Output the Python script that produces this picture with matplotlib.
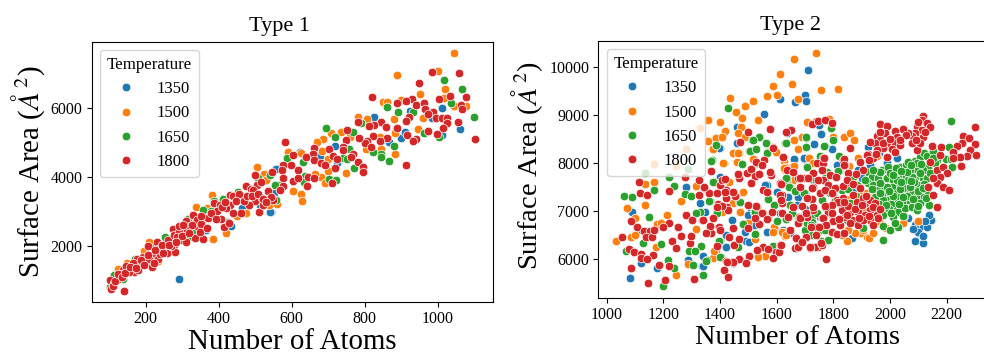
import numpy as np
import matplotlib
matplotlib.use("Agg")
import matplotlib.pyplot as plt
from matplotlib.lines import Line2D

plt.rcParams['font.family'] = ['Liberation Serif', 'DejaVu Serif']
plt.rcParams['mathtext.fontset'] = 'stix'

temps = ['1350', '1500', '1650', '1800']
colors = ['#1f77b4', '#ff7f0e', '#2ca02c', '#d62728']

# Type 1: (atoms, surface area)
t1_1350 = [(1010,6001),(1060,5393),(825,5740),(983,5711),(924,5905),(900,5132),(910,5306),(1012,5209),(845,5035),(867,5016),
    (718,4890),(677,4600),(623,4707),(723,4388),(559,4233),(542,2978),(551,3519),(291,1026),(541,2978),(558,4224),
    (464,3103),(367,3055),(433,2581),(513,3180),(364,2456)]
t1_1500 = [(1044,7585),(1000,7073),(887,6948),(1019,6552),(951,6388),(851,6175),(860,6175),(1018,6291),(1044,6050),(1076,6050),
    (899,6223),(880,5673),(958,5702),(780,5721),(806,5682),(736,5306),(708,5257),(760,5161),(685,5103),(669,4997),
    (946,5373),(883,5277),(841,5161),(589,4707),(625,4697),(682,4755),(700,4504),(882,4658),(845,4793),(803,4813),
    (748,4118),(699,4175),(680,3982),(691,3808),(664,4079),(603,3586),(625,3499),(629,3296),(559,3210),(505,4282),
    (525,4079),(529,3905),(382,3470),(339,3113),(385,2205),(421,2359),(474,2958),(449,2871),(538,3180),(209,2108),
    (123,1335),(234,1548),(262,1780),(367,3084),(335,2726),(150,1500),(195,1850),(300,2450),(320,2600),(110,950)]
t1_1650 = [(1016,6803),(1067,6552),(1036,6146),(860,6020),(891,5876),(933,5885),(1100,5731),(694,5412),(790,5547),(767,5296),
    (961,5257),(1002,5161),(717,5141),(880,4890),(756,4803),(823,4716),(845,4658),(845,4572),(867,4465),(740,4542),
    (752,4523),(588,4542),(632,4427),(769,4253),(636,4031),(703,3934),(720,3895),(634,3857),(540,4050),(553,3760),
    (563,3760),(557,3325),(554,3760),(411,3364),(387,3306),(358,3035),(380,3006),(326,2437),(319,2263),(317,2765),
    (254,2263),(454,3567),(102,794),(114,1152),(138,1026),(508,3953),(426,2697),(170,1600),(145,1250),(225,1950)]
t1_1800 = [(1058,7006),(985,7025),(948,6726),(820,6320),(1076,6310),(1034,6330),(1002,6262),(929,6262),(887,6146),(912,6185),
    (939,6088),(961,6127),(965,5972),(1064,6069),(1066,5953),(988,5866),(974,5818),(994,5702),(1010,5702),(1024,5711),
    (1026,5547),(1014,5402),(1056,5576),(920,5721),(912,5624),(844,5586),(824,5499),(811,5470),(780,5576),(859,5451),
    (887,5402),(751,5364),(973,5335),(998,5238),(915,5209),(1102,5084),(939,5103),(931,5026),(862,5112),(842,5045),
    (821,5180),(805,5045),(801,4987),(784,5122),(749,5064),(818,4871),(581,5006),(662,4823),(659,4658),(703,4793),
    (739,4852),(740,4774),(639,4572),(603,4639),(660,4475),(712,4600),(724,4513),(767,4658),(762,4572),(782,4436),
    (796,4282),(796,4146),(913,4340),(719,4262),(679,4388),(691,4330),(617,4195),(597,4349),(575,4340),(572,4195),
    (545,4146),(575,3963),(603,3886),(617,3963),(643,4001),(660,3973),(710,3828),(641,3721),(575,3741),(568,3615),
    (545,3393),(549,3330),(140,698),(105,737),(102,1007),(114,910),(127,1075),(138,1297),(150,1345),(161,1441),
    (168,1229),(175,1625),(184,1413),(193,1664),(201,1471),(217,1374),(207,2002),(216,1731),(233,1625),(230,2108),
    (234,1896),(253,1925),(262,2166),(277,2021),(280,1828),(275,2485),(277,2321),(292,2408),(294,2166),(309,2099),
    (309,2726),(312,2456),(330,2900),(336,2224),(357,2185),(344,2553),(359,2794),(341,2746),(387,3248),(387,2842),
    (406,2765),(415,2553),(428,2668),(403,3180),(432,3180),(431,3470),(440,3451),(461,2958),(474,3731),(487,3634),
    (499,4050),(504,3760),(499,3306),(484,3180),(510,2987),(518,3374),(535,3586),(543,3422),(520,3180),(110,820),
    (120,1000),(130,1180),(145,1420),(155,1240),(165,1500),(180,1290),(190,1520),(210,1600),(240,1750),(258,1800),
    (268,1990),(285,2250),(300,2290),(320,2580),(350,2630),(370,2800),(395,3000),(420,3090),(455,3500),(495,3620),
    (115,980),(125,1180),(135,1100),(142,1220),(158,1380),(172,1360),(188,1580),(196,1430),(205,1720),(222,1500),
    (225,1870),(245,2010),(248,1790),(265,2010),(283,2100),(290,2560),(302,2600),(318,2380),(328,2600),(348,2400),
    (352,2850),(368,2500),(378,2950),(392,2780),(410,3130),(418,3270),(440,2950),(448,3300),(470,3300),(478,3450),
    (492,3430),(508,3500),(515,3850),(522,3350),(530,3260)]

# Type 2
t2_1350 = [(1081,5605),(1088,6970),(1114,6596),(1120,5910),(1176,5806),(1280,7490),(1328,7157),(1347,6984),(1286,5979),(1336,5855),
    (1398,8308),(1458,8751),(1459,8405),(1399,7705),(1556,9022),(1613,9327),(1635,8627),(1442,6804),(1420,6256),(1492,6374),
    (1488,6575),(1565,7538),(1506,6950),(1565,6568),(1623,6603),(1600,7400),(1710,9929),(1612,9320),(1663,9271),(1701,9403),
    (1705,9285),(1755,8606),(1749,8786),(1733,8384),(1794,8287),(1662,8065),(1695,8086),(1923,8336),(1888,7850),(1900,7677),
    (1814,7954),(2023,8093),(1645,6554),(1865,6430),(2088,6381),(2115,6326),(2103,6534),(2106,6672),(2129,6658),(2143,6811),
    (2139,6915),(2088,6707),(2065,6845),(2100,6568),(1729,7642),(1753,6880),(1638,7296),(1612,6950),(1676,7261),(1753,6672),
    (2080,6620),(2118,6480),(2125,6780),(2050,6900),(1700,7050),(1780,7500),(1850,7700),(1960,8200),(1420,6500),(1520,6700),
    (1397,8308),(1461,8419),(1733,8384),(1755,8606),(1662,8072),(1696,8093),(1400,7712),(1558,7539),(1602,7400),(1676,7296),
    (1670,7123),(1441,6811),(1500,6915),(1488,6569),(1503,6346),(1421,6256),(1449,6291),(1570,6846),(1594,6638),(1647,6534),
    (1338,5855),(1338,6063),(1617,6950),(1790,6950),(1830,6850),(1900,6750),(1950,6950),(1870,7450),(1930,7950),(1990,8000)]
t2_1500 = [(1612,9846),(1585,9590),(1601,9410),(1567,9382),(1435,9340),(1515,9285),(1489,9188),(1456,9056),(1535,8890),(1479,8932),
    (1356,8897),(1401,8855),(1330,8717),(1473,8751),(1416,8654),(1463,8613),(1488,8543),(1357,8453),(1383,8509),(1405,8530),
    (1279,8294),(1372,8287),(1447,8197),(1465,8211),(1412,7996),(1518,8072),(1167,7968),(1245,7940),(1134,7566),(1168,7601),
    (1314,7511),(1261,7206),(1134,7123),(1070,7060),(1100,6860),(1213,6915),(1033,6381),(1084,6450),(1100,6499),(1176,6735),
    (1190,6742),(1172,6256),(1245,5660),(1315,6631),(1285,5889),(1385,6173),(1558,6063),(1535,6049),(1629,7850),(1627,8058),
    (1406,6984),(1447,7157),(1523,6409),(1740,10290),(1661,10151),(1654,9645),(1756,9520),(1815,9527),(1675,9326),(1706,8848),
    (1738,8876),(1786,8911),(1839,8537),(1858,8613),(1874,8467),(1798,8530),(1661,8467),(1688,8537),(1674,8287),(1624,8031),
    (1715,8093),(1659,7934),(1628,7906),(1658,7629),(1900,7365),(1918,7365),(1856,7934),(1888,8093),(1953,8141),(1920,6450),
    (1927,6430),(1847,6374),(2045,6742),(2099,6797),(1621,6568),(1629,6478),(1894,6534),(1876,6534),(1794,6915),(1970,6700),
    (1845,7250),(1880,7000),(1960,6800),(1905,6600),(1940,6550),(1830,6500),(1358,8453),(1384,8509),(1405,8543),(1374,8287),
    (1409,8003),(1458,8010),(1447,8197),(1462,8197),(1517,8072),(1586,8336),(1596,8218),(1661,8474),(1688,8543),(1625,7899),
    (1661,7934),(1729,7989),(1433,7594),(1388,7365),(1362,7351),(1482,7400),(1470,6984),(1553,6950),(1500,6755),(1590,6672),
    (1620,6568),(1588,6568),(1633,6499),(1376,6013),(1378,6173),(1656,7643),(1850,6600),(1800,7150),(1910,7050),(1985,6650)]
t2_1650 = [(1427,9139),(1539,8530),(1514,8474),(1386,8370),(1503,8252),(1566,8218),(1630,8419),(1370,8051),(1479,7968),(1136,7781),
    (1286,7878),(1219,7705),(1238,7525),(1168,7428),(1060,7317),(1089,7296),(1150,6880),(1275,7352),(1299,7303),(1365,7213),
    (1378,7608),(1329,6984),(1314,6950),(1388,6963),(1481,6735),(1398,6381),(1332,6277),(1353,5972),(1402,6049),(1340,5660),
    (1198,5432),(1236,5813),(1217,5979),(1068,6159),(1127,6326),(1192,6312),(1290,6173),(1312,6159),(1303,5875),(1521,6984),
    (1570,7241),(1590,7123),(1632,6825),(1523,6520),(1588,6270),(1465,7192),(1529,7989),(1635,7608),(2216,8876),(1790,8717),
    (1702,8523),(1703,8322),(1769,8356),(1630,8412),(1753,8128),(1821,8141),(1976,6402),(2027,6672),(1976,6693),(1904,6645),
    (1782,6395),(1755,6381),(1723,6499),(1700,6603),(1676,6880),(1647,7123),(1653,6963),(1635,7677),(1645,7504),(1665,7421),
    (1708,7920),(1700,7365),(1759,7227),(1788,7365),(1820,7837),(1873,7733),(1806,7227),(1829,7435),(1859,7157),(1882,7539),
    (1923,7816),(1935,7712),(1923,7573),(1941,7539),(1959,7677),(1970,7850),(1994,7906),(1988,7677),(1979,7504),(1953,7435),
    (1947,7296),(1982,7331),(2012,7642),(2018,7781),(2041,7712),(2035,7920),(2056,7954),(2088,8044),(2106,8128),(2120,8197),
    (2129,8141),(2153,8252),(2167,8058),(2196,8072),(2208,8322),(2216,8072),(2218,7920),(2159,7989),(2135,7920),(2118,7850),
    (2094,7850),(2071,7850),(2056,7726),(2088,7712),(2115,7677),(2082,7504),(2053,7573),(2029,7539),(2006,7504),(2000,7365),
    (2023,7365),(2053,7365),(2076,7365),(2129,7421),(2112,7296),(2092,7296),(2065,7227),(2041,7192),(2018,7227),(1994,7227),
    (1976,7088),(1994,6984),(1976,6915),(2012,7053),(2029,6984),(2012,6880),(2018,6755),(2053,7053),(2076,7088),(2106,7157),
    (2094,7019),(2139,7123),(2127,7261),(1976,7227),(1965,7365),(2047,7469),(2065,7642),(2100,7539),(2023,7642),(2000,7781),
    (1965,7816),(2076,7712),(2035,7296),(2129,7677),(2094,7989),(2065,8024),(1706,6742),(1753,6603),(1847,6811),(2005,7150),
    (2035,7450),(2060,7800),(2085,7600),(2110,7980),(2140,7790),(1995,7050),(1960,7150),(2045,6900),(2000,6600),(2070,7500),
    (2020,7900),(1990,7500),(2010,7300),(2098,7420),(2120,7550),(1935,7450),(1910,7640),(1965,7580),(1940,7850),(2150,8100),
    (1538,8530),(1515,8474),(1561,8419),(1631,8419),(1703,8530),(1505,8245),(1527,8280),(1567,8211),(1478,7968),(1531,7989),
    (1368,8044),(1633,7677),(1644,7504),(1664,7414),(1696,7365),(1723,6894),(1800,8474),(1768,8356),(1708,7906),(1753,8141),
    (1776,7816),(1817,7830),(1738,7643),(1770,7677),(1570,7247),(1376,7608),(1362,7213),(1388,6950),(1523,6984),(1470,7192),
    (1480,6728),(1367,6534),(1397,6381),(1464,6243),(1400,6049),(1350,5965),(1338,5660),(1523,6520),(1588,6277),(1600,6797),
    (1633,6825),(1647,7123),(1653,6963),(1705,6880),(1723,6776),(1741,6950),(1755,6381),(1782,6395),(1790,7100),(1830,7250),
    (1880,7300),(1850,7450),(1800,7350),(1770,6600),(1720,6700),(2040,7600),(2075,7620),(2060,7320),(2030,7150),(2005,6950),
    (1985,7120),(1995,7420),(2045,7280),(2080,7250),(2100,7100),(2115,7470),(2105,7780),(2075,7950),(2040,7820),(2010,7750)]
t2_1800 = [(1054,6464),(1080,6201),(1097,6139),(1087,5806),(1146,5501),(1206,5563),(1183,5868),(1221,5855),(1121,6104),(1122,6014),
    (1162,6076),(1141,5993),(1229,6381),(1245,6222),(1261,6485),(1294,6326),(1299,6478),(1218,6742),(1197,6658),(1106,6658),
    (1086,6783),(1133,6582),(1153,6582),(1139,6450),(1159,6450),(1167,6603),(1280,6908),(1300,6811),(1252,6658),(1336,6811),
    (1395,6672),(1367,6534),(1447,6638),(1117,7379),(1113,7601),(1219,7414),(1143,7331),(1276,7698),(1326,7642),(1343,7483),
    (1326,7324),(1362,7365),(1388,7365),(1421,7435),(1414,7642),(1400,7538),(1394,7137),(1421,7261),(1447,7386),(1465,7677),
    (1456,7317),(1426,7088),(1500,8640),(1469,8426),(1576,8696),(1555,8058),(1585,8315),(1621,8121),(1526,8024),(1547,7954),
    (1580,7746),(1527,7726),(1508,7573),(1494,7781),(1553,7435),(1616,7552),(1617,7310),(1529,7088),(1547,6963),(1582,6970),
    (1500,6638),(1565,6832),(1620,6950),(1647,6603),(1449,6291),(1553,6256),(1598,6153),(1612,6291),(1586,6028),(1467,5993),
    (1445,5924),(1421,5959),(1415,5771),(1427,5633),(1490,5924),(1309,5577),(2301,8744),(2259,8557),(2279,8516),(2300,8391),
    (2254,8405),(2235,8356),(2223,8232),(2282,8266),(2302,8162),(2271,8141),(2247,8128),(2223,8093),(2249,7934),(2179,8335),
    (2147,8356),(2176,8162),(2141,8024),(2165,7850),(2188,7920),(2200,7781),(2176,7712),(2165,7573),(2188,7504),(2209,7441),
    (2153,7331),(2167,7088),(2135,7504),(2153,7677),(2118,8973),(2112,8890),(2129,8834),(2141,8737),(2094,8751),(2112,8682),
    (2088,8613),(2118,8543),(2076,8557),(2065,8613),(2047,8696),(2018,8668),(2023,8543),(2056,8571),(1965,8800),(1990,8765),
    (1982,8627),(1953,8557),(1965,8474),(1947,8405),(1929,8439),(1994,8405),(2018,8405),(2006,8280),(1976,8301),(1953,8266),
    (1923,8183),(1941,8093),(1988,8128),(2018,8232),(2094,8266),(2076,8405),(2106,8405),(1965,8647),(2035,8370),(1765,8093),
    (1741,7989),(1759,7850),(1729,7781),(1700,7677),(1676,7677),(1682,7504),(1635,7850),(1657,7802),(1612,7573),(1618,7331),
    (1623,8128),(1650,8682),(1633,8647),(1726,8800),(1747,8876),(1770,8890),(1796,8835),(1860,8315),(1788,7746),(1806,7469),
    (1835,8058),(1841,7954),(1853,7608),(1870,7331),(1765,7642),(1782,7539),(1729,7504),(1753,7365),(1812,7227),(1829,7019),
    (1818,7157),(1770,7088),(1759,6845),(1782,6984),(1729,7019),(1741,6672),(1720,6672),(1770,6707),(1794,6568),(1823,6707),
    (1841,6880),(1859,6984),(1865,6811),(1888,6984),(1888,6707),(1912,7157),(1929,7227),(1947,7157),(1929,7019),(1953,6915),
    (1929,6811),(1941,6707),(1959,6845),(1912,6915),(1882,7192),(1906,7261),(1894,8024),(1917,8162),(1853,7781),(1906,7850),
    (1835,7261),(1747,6257),(1735,6257),(1718,6222),(1688,6360),(1667,6430),(1665,6222),(1676,6257),(1773,6000),(1759,6291),
    (1680,6880),(1706,6880),(1659,7088),(1618,7157),(1641,6880),(1612,6291),(1725,7250),(1690,7100),(1800,6800),(1850,7100),
    (1368,7837),(1344,7490),(1405,7643),(1417,7656),(1464,7767),(1508,7864),(1523,7733),(1538,7767),(1508,7587),(1576,7816),
    (1615,7559),(1567,7400),(1611,7331),(1615,7227),(1682,7677),(1723,7469),(1708,7261),(1770,7435),(1805,7469),(1835,7518),
    (1817,7192),(1794,7122),(1770,7102),(1837,7192),(1847,6915),(1821,6825),(1794,6950),(1762,6846),(1774,6707),(1749,6672),
    (1811,6520),(1838,6534),(1737,6499),(1705,6464),(1676,6755),(1669,6430),(1688,6346),(1717,6243),(1755,6326),(1608,6153),
    (1570,6201),(1529,6187),(1501,6069),(1468,5993),(1444,5931),(1423,5945),(1491,5910),(1467,6409),(1433,6451),(1444,6638),
    (1400,6603),(1388,6270),(1376,6846),(1338,6811),(1364,6686),(1350,6534),(1538,6728),(1523,6846),(1527,7102),(1500,7123),
    (1429,7019),(1405,7102),(1453,7317),(1447,7400),(1417,7400),(1388,7088),(1615,6291),(1682,6846),(1705,6950),(1729,7088),
    (1794,7365),(1847,7642),(1747,7643),(1711,7677),(1764,7989),(1767,8107),(1837,8072),(1837,7954),(1758,7850),(1809,7712),
    (1875,7050),(1900,7120),(1860,6750),(1905,6820),(1925,6900),(1890,6850),(1940,7080),(1965,7050),(1915,7300),(1870,7550),
    (1895,7480),(1880,7760),(1925,8050),(1950,8180),(1975,8420),(2000,8500),(2035,8480),(2090,8480),(2125,8650),(2100,8850)]


def make_scatter(ax, series, title, title_x, xlim, ylim, xticks, yticks, label_size, ylabel_y):
    # same drawing order in both panels
    for pts, c in zip(series, colors):
        a = np.array(pts)
        ax.scatter(a[:, 0], a[:, 1], s=38, c=c, edgecolors='white', linewidths=0.5)
    ax.set_xlim(xlim)
    ax.set_ylim(ylim)
    ax.set_xticks(xticks)
    ax.set_yticks(yticks)
    ax.tick_params(labelsize=11.5, length=3.5, width=0.8, pad=3)
    ax.set_title(title, fontsize=16, x=title_x, pad=8)
    ax.set_xlabel('Number of Atoms', fontsize=label_size, labelpad=1.5)
    ax.set_ylabel('Surface Area ($\\mathit{Å}^2$)', fontsize=label_size, labelpad=3, y=ylabel_y)
    handles = [Line2D([], [], ls='', marker='o', ms=6.2, mfc=c, mec='white', mew=0.5) for c in colors]
    ax.legend(handles, temps, title='Temperature', loc='upper left', fontsize=12, title_fontsize=12.2,
              handletextpad=0.85, labelspacing=0.5, borderaxespad=0.5, borderpad=0.4)


fig = plt.figure(figsize=(9.84, 3.54), dpi=100)
ax1 = fig.add_axes([91.7 / 984, 1 - 302 / 354, (493 - 91.7) / 984, (302 - 41.7) / 354])
ax2 = fig.add_axes([598.3 / 984, 1 - 297.7 / 354, (996 - 598.3) / 984, (297.7 - 41) / 354])

make_scatter(ax1, [t1_1350, t1_1500, t1_1650, t1_1800], 'Type 1', 0.469, (52, 1151), (368, 7913),
             [200, 400, 600, 800, 1000], [2000, 4000, 6000], 20.8, 0.5)
make_scatter(ax2, [t2_1350, t2_1500, t2_1650, t2_1800], 'Type 2', 0.4845, (970, 2374), (5195, 10534),
             [1000, 1200, 1400, 1600, 1800, 2000, 2200], [6000, 7000, 8000, 9000, 10000], 20.4, 0.515)

fig.savefig('out.png', dpi=100)
